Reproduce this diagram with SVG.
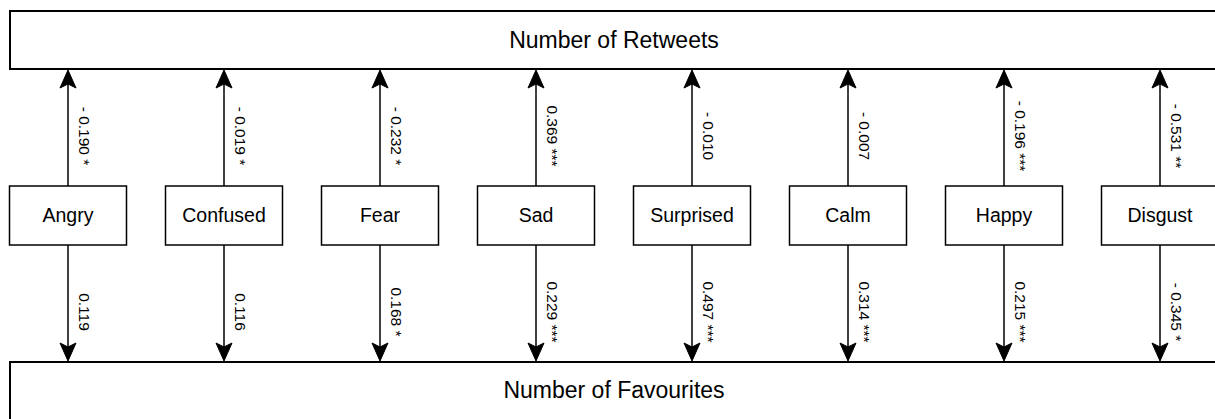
<svg xmlns="http://www.w3.org/2000/svg" width="1215" height="419" viewBox="0 0 1215 419">
<style>
.bar{fill:#fff;stroke:#000;stroke-width:2}
.box{fill:#fff;stroke:#000;stroke-width:1.5}
.t{font-family:"Liberation Sans",Arial,Helvetica,sans-serif;fill:#000;text-anchor:middle}
.title{font-size:23px}
.lbl{font-size:19.5px}
.e{font-size:15.5px}
.ln{stroke:#000;stroke-width:1.5;fill:none}
.ah{fill:#000;stroke:#000;stroke-width:1}
</style>
<defs>
<path id="up" d="M0,0 L-8,18 L0,14 L8,18 Z"/>
<path id="dn" d="M0,0 L-8,-18 L0,-14 L8,-18 Z"/>
</defs>
<g id="retweets">
<rect class="bar" x="10" y="11" width="1220" height="58"/>
<text class="t title" x="614" y="48">Number of Retweets</text>
</g>
<g id="favourites">
<rect class="bar" x="10" y="362" width="1220" height="70"/>
<text class="t title" x="614" y="398">Number of Favourites</text>
</g>
<g id="connectors">
<g id="c-angry"><line class="ln" x1="68" y1="186" x2="68" y2="80"/><use href="#up" class="ah" x="68" y="70"/><line class="ln" x1="68" y1="245" x2="68" y2="350"/><use href="#dn" class="ah" x="68" y="361"/>
<text class="t e" transform="translate(79,136) rotate(90)">- 0.190 *</text><text class="t e" transform="translate(79,312) rotate(90)">0.119</text></g>
<g id="c-confused"><line class="ln" x1="224" y1="186" x2="224" y2="80"/><use href="#up" class="ah" x="224" y="70"/><line class="ln" x1="224" y1="245" x2="224" y2="350"/><use href="#dn" class="ah" x="224" y="361"/>
<text class="t e" transform="translate(235,136) rotate(90)">- 0.019 *</text><text class="t e" transform="translate(235,312) rotate(90)">0.116</text></g>
<g id="c-fear"><line class="ln" x1="380" y1="186" x2="380" y2="80"/><use href="#up" class="ah" x="380" y="70"/><line class="ln" x1="380" y1="245" x2="380" y2="350"/><use href="#dn" class="ah" x="380" y="361"/>
<text class="t e" transform="translate(391,136) rotate(90)">- 0.232 *</text><text class="t e" transform="translate(391,312) rotate(90)">0.168 *</text></g>
<g id="c-sad"><line class="ln" x1="536" y1="186" x2="536" y2="80"/><use href="#up" class="ah" x="536" y="70"/><line class="ln" x1="536" y1="245" x2="536" y2="350"/><use href="#dn" class="ah" x="536" y="361"/>
<text class="t e" transform="translate(547,136) rotate(90)">0.369 ***</text><text class="t e" transform="translate(547,312) rotate(90)">0.229 ***</text></g>
<g id="c-surprised"><line class="ln" x1="692" y1="186" x2="692" y2="80"/><use href="#up" class="ah" x="692" y="70"/><line class="ln" x1="692" y1="245" x2="692" y2="350"/><use href="#dn" class="ah" x="692" y="361"/>
<text class="t e" transform="translate(703,136) rotate(90)">- 0.010</text><text class="t e" transform="translate(703,312) rotate(90)">0.497 ***</text></g>
<g id="c-calm"><line class="ln" x1="848" y1="186" x2="848" y2="80"/><use href="#up" class="ah" x="848" y="70"/><line class="ln" x1="848" y1="245" x2="848" y2="350"/><use href="#dn" class="ah" x="848" y="361"/>
<text class="t e" transform="translate(859,136) rotate(90)">- 0.007</text><text class="t e" transform="translate(859,312) rotate(90)">0.314 ***</text></g>
<g id="c-happy"><line class="ln" x1="1004" y1="186" x2="1004" y2="80"/><use href="#up" class="ah" x="1004" y="70"/><line class="ln" x1="1004" y1="245" x2="1004" y2="350"/><use href="#dn" class="ah" x="1004" y="361"/>
<text class="t e" transform="translate(1015,136) rotate(90)">- 0.196 ***</text><text class="t e" transform="translate(1015,312) rotate(90)">0.215 ***</text></g>
<g id="c-disgust"><line class="ln" x1="1160" y1="186" x2="1160" y2="80"/><use href="#up" class="ah" x="1160" y="70"/><line class="ln" x1="1160" y1="245" x2="1160" y2="350"/><use href="#dn" class="ah" x="1160" y="361"/>
<text class="t e" transform="translate(1171,136) rotate(90)">- 0.531 **</text><text class="t e" transform="translate(1171,312) rotate(90)">- 0.345 *</text></g>
</g>
<g id="angry"><rect class="box" x="9.5" y="186" width="117" height="59"/><text class="t lbl" x="68" y="222">Angry</text></g>
<g id="confused"><rect class="box" x="165.5" y="186" width="117" height="59"/><text class="t lbl" x="224" y="222">Confused</text></g>
<g id="fear"><rect class="box" x="321.5" y="186" width="117" height="59"/><text class="t lbl" x="380" y="222">Fear</text></g>
<g id="sad"><rect class="box" x="477.5" y="186" width="117" height="59"/><text class="t lbl" x="536" y="222">Sad</text></g>
<g id="surprised"><rect class="box" x="633.5" y="186" width="117" height="59"/><text class="t lbl" x="692" y="222">Surprised</text></g>
<g id="calm"><rect class="box" x="789.5" y="186" width="117" height="59"/><text class="t lbl" x="848" y="222">Calm</text></g>
<g id="happy"><rect class="box" x="945.5" y="186" width="117" height="59"/><text class="t lbl" x="1004" y="222">Happy</text></g>
<g id="disgust"><rect class="box" x="1101.5" y="186" width="117" height="59"/><text class="t lbl" x="1160" y="222">Disgust</text></g>
</svg>
